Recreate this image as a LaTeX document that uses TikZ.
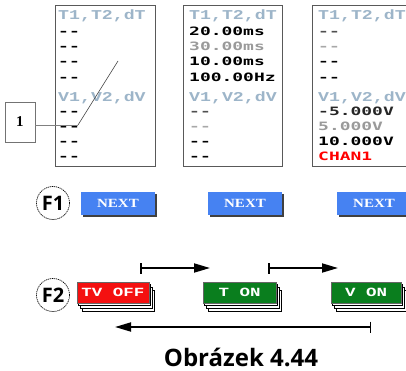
\documentclass[tikz,border=0pt]{standalone}
\usepackage{fontspec}
\setmainfont{Open Sans}
\newfontfamily\lcdfont[FakeStretch=1.56]{DejaVu Sans Mono}
\newfontfamily\hdrfont[FakeStretch=1.35]{Liberation Mono}
\newfontfamily\btnfont[FakeStretch=1.4]{Liberation Mono}
\newfontfamily\nextfont[FakeStretch=1.2]{Liberation Serif}
\usetikzlibrary{arrows.meta,shadows}
\definecolor{hdrc}{HTML}{9DB5C9}
\definecolor{dgray}{HTML}{505050}
\definecolor{lgray}{HTML}{A8A8A8}
\definecolor{mgray}{HTML}{9A9A9A}
\definecolor{nextblue}{HTML}{4682F2}
\definecolor{btnred}{HTML}{F41010}
\definecolor{btngreen}{HTML}{0A7E1E}
\tikzset{
  panel/.style={draw=black!65, line width=1.2pt, fill=white, anchor=north west, inner sep=0pt},
  row/.style={anchor=west, inner sep=0pt, text height=8.5pt, text depth=0pt, font=\lcdfont\bfseries\fontsize{11.5}{12}\selectfont},
  hdr/.style={anchor=west, inner sep=0pt, text height=8.5pt, text depth=0pt, text=hdrc, font=\hdrfont\bfseries\fontsize{13.5}{14}\selectfont},
  lbl/.style={draw=black!55, line width=0.8pt, minimum width=30pt, minimum height=40pt, inner sep=0pt, font=\fontspec{Liberation Serif}\bfseries\fontsize{15}{15}\selectfont},
  fkey/.style={circle, draw, dashed, dash pattern=on 1.2pt off 0.8pt, line width=0.7pt, minimum size=33pt, inner sep=0pt, font=\bfseries\fontsize{20}{20}\selectfont},
  nextbtn/.style={fill=nextblue, text=white, minimum width=74pt, minimum height=23pt, inner sep=0pt,
     font=\nextfont\bfseries\fontsize{12.5}{12}\selectfont,
     copy shadow={shadow xshift=2pt, shadow yshift=-2pt, fill=black!75, draw=none}},
  stackbtn/.style={text=white, minimum height=21pt, inner sep=0pt, draw=black!60, line width=0.5pt,
     font=\btnfont\bfseries\fontsize{12.5}{12}\selectfont,
     copy shadow={shadow xshift=5.1pt, shadow yshift=-8.4pt, fill=white, draw=black, line width=1pt},
     copy shadow={shadow xshift=3.4pt, shadow yshift=-5.6pt, fill=white, draw=black, line width=1pt},
     copy shadow={shadow xshift=1.7pt, shadow yshift=-2.8pt, fill=white, draw=black, line width=1pt}},
  flow/.style={line width=1.8pt, {Bar[width=11pt,line width=1.5pt]}-{Triangle[length=16pt,width=9pt]}}
}
\begin{document}
\begin{tikzpicture}[x=1pt,y=-1pt]
\useasboundingbox (0,0) rectangle (406,371);
\clip (0,0) rectangle (406,371);
% panels
\node[panel, minimum width=100pt, minimum height=161pt] (p1) at (55,5) {};
\node[panel, minimum width=99pt, minimum height=161pt] (p2) at (183,5) {};
\node[panel, minimum width=110pt, minimum height=161pt] (p3) at (312,5) {};
% panel 1
\node[hdr] (p1h1) at (58,15) {T1,T2,dT};
\node[row] (p1r1) at (58,31) {-{}-};
\node[row] (p1r2) at (58,46) {-{}-};
\node[row] (p1r3) at (58,61) {-{}-};
\node[row] (p1r4) at (58,77) {-{}-};
\node[hdr] (p1h2) at (58,97) {V1,V2,dV};
\node[row] (p1r5) at (58,111) {-{}-};
\node[row] (p1r6) at (58,126) {-{}-};
\node[row] (p1r7) at (58,141) {-{}-};
\node[row] (p1r8) at (58,156) {-{}-};
% panel 2
\node[hdr] (p2h1) at (189,15) {T1,T2,dT};
\node[row] (p2r1) at (189,31) {20.00ms};
\node[row, text=mgray] (p2r2) at (189,46) {30.00ms};
\node[row] (p2r3) at (189,61) {10.00ms};
\node[row] (p2r4) at (189,77) {100.00Hz};
\node[hdr] (p2h2) at (189,97) {V1,V2,dV};
\node[row, text=dgray] (p2r5) at (189,111) {-{}-};
\node[row, text=lgray] (p2r6) at (189,126) {-{}-};
\node[row] (p2r7) at (189,141) {-{}-};
\node[row] (p2r8) at (189,156) {-{}-};
% panel 3
\node[hdr] (p3h1) at (318,15) {T1,T2,dT};
\node[row, text=dgray] (p3r1) at (318,31) {-{}-};
\node[row, text=lgray] (p3r2) at (318,46) {-{}-};
\node[row] (p3r3) at (318,61) {-{}-};
\node[row] (p3r4) at (318,77) {-{}-};
\node[hdr] (p3h2) at (318,97) {V1,V2,dV};
\node[row, text=black!85] (p3r5) at (318,111) {-5.000V};
\node[row, text=mgray] (p3r6) at (318,126) {5.000V};
\node[row] (p3r7) at (318,141) {10.000V};
\node[row, text=red] (p3r8) at (318,156) {CHAN1};
% label 1
\node[lbl] (one) at (20,122) {1};
\coordinate (k1) at (78,125);
\coordinate (k2) at (118,61);
\draw[black!50, line width=0.8pt] (one.east |- k1) -- (k1);
\draw[black!70, line width=0.6pt] (k1) -- (k2);
% F keys
\node[fkey] (f1) at (53,203) {F1};
\node[fkey] (f2) at (53,295) {F2};
% NEXT buttons
\node[nextbtn] (n1) at (118,203.5) {NEXT};
\node[nextbtn] (n2) at (245,203.5) {NEXT};
\node[nextbtn] (n3) at (374,203.5) {NEXT};
% F2 buttons
\node[stackbtn, fill=btnred, minimum width=72pt] (b1) at (113,292.5) {TV OFF};
\node[stackbtn, fill=btngreen, minimum width=73pt] (b2) at (239.5,292.5) {T ON};
\node[stackbtn, fill=btngreen, minimum width=70pt] (b3) at (366,292.5) {V ON};
% arrows
\coordinate (a1s) at (140,268);
\coordinate (a1e) at (210,268);
\coordinate (a2s) at (268,268);
\coordinate (a2e) at (338,268);
\coordinate (a3s) at (371,327);
\coordinate (a3e) at (115,327);
\draw[flow] (a1s) -- (a1e);
\draw[flow] (a2s) -- (a2e);
\draw[flow] (a3s) -- (a3e);
% caption
\node[font=\bfseries\fontsize{24}{24}\selectfont, inner sep=0pt] (cap) at (241,357) {Obrázek 4.44};
\end{tikzpicture}
\end{document}
